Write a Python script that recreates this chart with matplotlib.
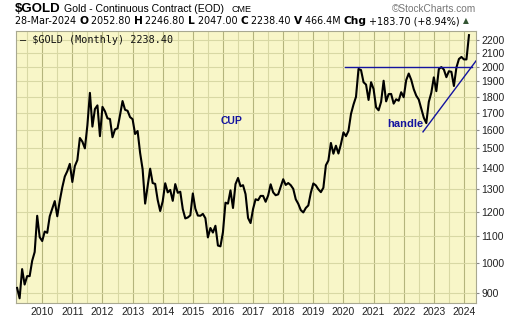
import matplotlib
matplotlib.use('Agg')
import matplotlib.pyplot as plt
from matplotlib.ticker import FixedLocator, NullFormatter

plt.rcParams['font.family'] = ['Liberation Sans', 'DejaVu Sans']

# monthly closes, Mar 2009 .. Mar 2024
start_year = 2009
start_month = 3
closes = [
    916, 883, 979, 927, 955, 955, 1008, 1040, 1182, 1096,                 # 2009
    1081, 1118, 1113, 1180, 1212, 1245, 1180, 1247, 1307, 1358, 1384, 1420,  # 2010
    1332, 1409, 1439, 1556, 1536, 1500, 1628, 1825, 1620, 1724, 1746, 1566,  # 2011
    1737, 1710, 1668, 1664, 1560, 1604, 1610, 1687, 1773, 1719, 1713, 1675,  # 2012
    1663, 1578, 1595, 1476, 1393, 1234, 1312, 1396, 1327, 1323, 1250, 1202,  # 2013
    1244, 1326, 1284, 1295, 1246, 1322, 1282, 1287, 1210, 1171, 1175, 1184,  # 2014
    1279, 1212, 1183, 1182, 1190, 1172, 1095, 1132, 1114, 1141, 1064, 1061,  # 2015
    1116, 1238, 1234, 1293, 1215, 1322, 1351, 1312, 1317, 1276, 1173, 1152,  # 2016
    1211, 1253, 1249, 1268, 1268, 1242, 1270, 1321, 1284, 1271, 1275, 1309,  # 2017
    1345, 1318, 1327, 1317, 1300, 1253, 1233, 1206, 1196, 1215, 1226, 1282,  # 2018
    1325, 1316, 1298, 1285, 1305, 1413, 1437, 1529, 1472, 1514, 1473, 1523,  # 2019
    1587, 1566, 1596, 1694, 1751, 1800, 1986, 1978, 1895, 1879, 1780, 1895,  # 2020
    1850, 1734, 1716, 1768, 1905, 1771, 1817, 1818, 1757, 1784, 1775, 1829,  # 2021
    1797, 1909, 1954, 1911, 1849, 1807, 1782, 1726, 1672, 1640, 1768, 1826,  # 2022
    1928, 1836, 1986, 1999, 1982, 1929, 1970, 1966, 1870, 1996, 2057, 2072,  # 2023
    2054, 2054, 2238,                                                     # 2024
]
dates = [start_year + (start_month - 1 + i) / 12 for i in range(len(closes))]

years = list(range(2010, 2025))
price_ticks = [900, 1000, 1100, 1200, 1300, 1400, 1500, 1600, 1700, 1800,
               1900, 2000, 2100, 2200]

# annotation lines (date, price)
resist_x = [2020.05, 2024.27]
resist_y = [2000, 2000]
trend_x = [2022.64, 2024.40]
trend_y = [1590, 2043]

bg = '#f8f6c8'
grid_light = '#d8d8a4'
grid_dark = '#b4b47c'
blue = '#1414a0'

fig = plt.figure(figsize=(5.2, 3.18), dpi=100)
ax = fig.add_axes([16 / 520, 1 - 302.5 / 318, 460 / 520, 271.5 / 318])
ax.set_facecolor(bg)
ax.set_yscale('log')
ax.set_xlim(2009.13, 2024.40)
ax.set_ylim(870, 2271)

# grid
for y in range(2009, 2025):
    ax.axvline(y, color=grid_dark, lw=0.8, zorder=0)
    ax.axvline(y + 0.5, color=grid_light, lw=0.8, zorder=0)
for p in price_ticks:
    ax.axhline(p, color=grid_light, lw=0.8, zorder=0)

ax.plot(dates, closes, color='black', lw=1.5, zorder=3)
ax.plot(resist_x, resist_y, color=blue, lw=1.0, zorder=4)
ax.plot(trend_x, trend_y, color=blue, lw=1.0, zorder=4)

ax.text(2016.30, 1652, 'CUP', color=blue, fontsize=7.5, fontweight='bold',
        ha='center', va='center')
ax.text(2022.04, 1635, 'handle', color=blue, fontsize=8, fontweight='bold',
        ha='center', va='center')

ax.yaxis.tick_right()
ax.yaxis.set_major_locator(FixedLocator(price_ticks))
ax.yaxis.set_minor_locator(FixedLocator([]))
ax.set_yticklabels([str(p) for p in price_ticks])
ax.yaxis.set_minor_formatter(NullFormatter())
ax.tick_params(axis='y', which='major', length=2, pad=2, labelsize=7.5,
               color='#888888', labelcolor='#222222')
ax.set_xticks(years)
ax.set_xticklabels([str(y) for y in years])
ax.tick_params(axis='x', length=0, pad=3, labelsize=7.5, labelcolor='#222222')

for s in ax.spines.values():
    s.set_color('#a8a890')
    s.set_linewidth(0.8)

# legend line inside the plot
ax.text(0.008, 0.985, '\u2014 $GOLD (Monthly) 2238.40', transform=ax.transAxes,
        fontsize=7.3, family='DejaVu Sans Mono', va='top', ha='left',
        color='#111111')

# header
fig.text(15 / 520, 1 - 9 / 318, '$GOLD', fontsize=9.5, fontweight='bold',
         va='center', ha='left')
fig.text(64 / 520, 1 - 9 / 318, 'Gold - Continuous Contract (EOD)',
         fontsize=7.6, va='center', ha='left')
fig.text(231 / 520, 1 - 9 / 318, 'CME', fontsize=6.5, va='center', ha='left')
fig.text(476 / 520, 1 - 9 / 318, '\u00a9StockCharts.com', fontsize=7.3,
         va='center', ha='right', color='#777777')

x0 = 15 / 520
parts = [('28-Mar-2024 ', 'normal'), ('O', 'bold'), (' 2052.80 ', 'normal'),
         ('H', 'bold'), (' 2246.80 ', 'normal'), ('L', 'bold'),
         (' 2047.00 ', 'normal'), ('C', 'bold'), (' 2238.40 ', 'normal'),
         ('V', 'bold'), (' 466.4M ', 'normal'), ('Chg', 'bold'),
         (' +183.70 (+8.94%) ', 'normal')]
renderer = fig.canvas.get_renderer()
for txt, w in parts:
    t = fig.text(x0, 1 - 21 / 318, txt, fontsize=6.95 if w == 'normal' else 7.7,
                 fontweight=w, va='center', ha='left', family='DejaVu Sans')
    bb = t.get_window_extent(renderer=renderer)
    x0 += bb.width / fig.bbox.width
fig.text(x0, 1 - 21 / 318, '\u25b2', fontsize=5.5, va='center', ha='left',
         family='DejaVu Sans', color='#335533')

fig.savefig('out.png', dpi=100)
